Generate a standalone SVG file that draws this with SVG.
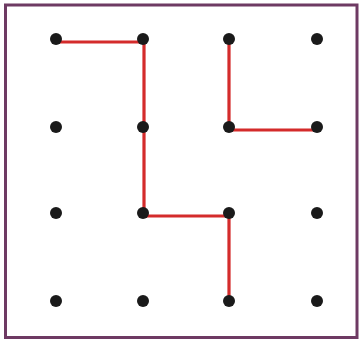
<svg xmlns="http://www.w3.org/2000/svg" width="363" height="341" viewBox="0 0 363 341">
<style>
.dot{fill:#1a1a1a}
.seg{fill:none;stroke:#d42b2b;stroke-width:3.2;stroke-linejoin:miter}
</style>
<rect x="0" y="0" width="363" height="341" fill="#ffffff"/>
<rect x="5.5" y="5" width="351.5" height="332.5" fill="none" stroke="#6e3a63" stroke-width="3"/>
<g id="connectors">
<polyline class="seg" points="57,42 144,42 144,216 229,216 229,301"/>
<polyline class="seg" points="229,39 229,130 317,130"/>
</g>
<g id="d00"><circle class="dot" cx="56" cy="39" r="6"/></g>
<g id="d01"><circle class="dot" cx="143" cy="39" r="6"/></g>
<g id="d02"><circle class="dot" cx="229" cy="39" r="6"/></g>
<g id="d03"><circle class="dot" cx="317" cy="39" r="6"/></g>
<g id="d10"><circle class="dot" cx="56" cy="127" r="6"/></g>
<g id="d11"><circle class="dot" cx="143" cy="127" r="6"/></g>
<g id="d12"><circle class="dot" cx="229" cy="127" r="6"/></g>
<g id="d13"><circle class="dot" cx="317" cy="127" r="6"/></g>
<g id="d20"><circle class="dot" cx="56" cy="213" r="6"/></g>
<g id="d21"><circle class="dot" cx="143" cy="213" r="6"/></g>
<g id="d22"><circle class="dot" cx="229" cy="213" r="6"/></g>
<g id="d23"><circle class="dot" cx="317" cy="213" r="6"/></g>
<g id="d30"><circle class="dot" cx="56" cy="301" r="6"/></g>
<g id="d31"><circle class="dot" cx="143" cy="301" r="6"/></g>
<g id="d32"><circle class="dot" cx="229" cy="301" r="6"/></g>
<g id="d33"><circle class="dot" cx="317" cy="301" r="6"/></g>
</svg>
